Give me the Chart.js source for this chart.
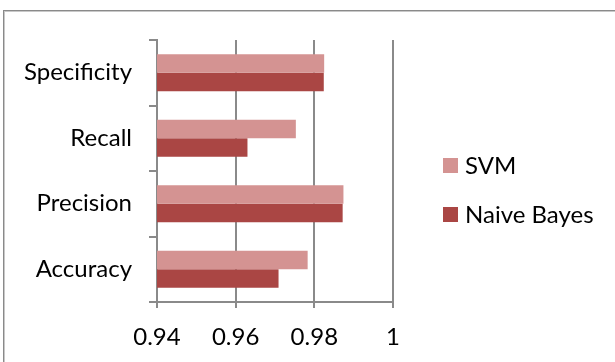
<!DOCTYPE html>
<html>
<head>
<meta charset="utf-8">
<script src="https://cdn.jsdelivr.net/npm/chart.js@4/dist/chart.umd.min.js"></script>
<style>
  html, body { margin: 0; padding: 0; background: #fff; }
  #wrap { position: relative; width: 615px; height: 362px; overflow: hidden; }
  #frame { position: absolute; left: 3px; top: 10px; width: 800px; height: 600px;
           border: 1px solid #8a8a8a; box-shadow: inset 1px 1px 0 #c8c8c8; }
  canvas { position: absolute; left: 0; top: 0; }
</style>
</head>
<body>
<div id="wrap">
  <div id="frame"></div>
  <canvas id="c" width="615" height="362"></canvas>
</div>
<script>
const categories = ['Specificity', 'Recall', 'Precision', 'Accuracy'];
const seriesNames = ['SVM', 'Naive Bayes'];
const svmValues = [0.9825, 0.9753, 0.9874, 0.9783];
const naiveBayesValues = [0.9824, 0.9630, 0.9872, 0.9709];
const xTicks = [0.94, 0.96, 0.98, 1];
const seriesColors = ['#D49392', '#AA4644'];

const FONT = { family: 'Lato', size: 24 };
const AXIS = '#8a8a8a';

const legendPlugin = {
  id: 'sideLegend',
  afterDraw(chart) {
    const ctx = chart.ctx;
    ctx.save();
    ctx.font = FONT.size + 'px ' + FONT.family;
    ctx.textBaseline = 'middle';
    ctx.textAlign = 'left';
    chart.data.datasets.forEach((ds, i) => {
      const cy = 165.5 + i * 49;
      ctx.fillStyle = ds.backgroundColor;
      ctx.fillRect(443, cy - 7.5, 15, 15);
      ctx.fillStyle = '#000';
      ctx.fillText(ds.label, 465, cy + 1);
    });
    ctx.restore();
  }
};

new Chart(document.getElementById('c'), {
  type: 'bar',
  data: {
    labels: categories,
    datasets: [
      { label: seriesNames[0], data: svmValues, backgroundColor: seriesColors[0] },
      { label: seriesNames[1], data: naiveBayesValues, backgroundColor: seriesColors[1] }
    ]
  },
  options: {
    indexAxis: 'y',
    responsive: false,
    maintainAspectRatio: false,
    devicePixelRatio: 1,
    animation: false,
    layout: { padding: { left: 0, top: 40, right: 222, bottom: 0 } },
    datasets: { bar: { categoryPercentage: 0.565, barPercentage: 1.0 } },
    plugins: { legend: { display: false }, tooltip: { enabled: false } },
    scales: {
      x: {
        min: 0.94, max: 1,
        afterBuildTicks(scale) { scale.ticks = xTicks.map(v => ({ value: v })); },
        afterFit(scale) { scale.height = 60; },
        grid: { color: AXIS, lineWidth: 2, tickLength: 6, drawOnChartArea: true },
        border: { color: AXIS, width: 2 },
        ticks: {
          font: FONT, color: '#000', padding: 15,
          maxRotation: 0, autoSkip: false,
          callback: (v) => String(Math.round(v * 100) / 100)
        }
      },
      y: {
        afterFit(scale) { scale.width = 157; },
        grid: { color: AXIS, lineWidth: 2, tickLength: 8, offset: true, drawOnChartArea: false },
        border: { color: AXIS, width: 2 },
        ticks: { font: FONT, color: '#000', padding: 17 }
      }
    }
  },
  plugins: [legendPlugin]
});
</script>
</body>
</html>
